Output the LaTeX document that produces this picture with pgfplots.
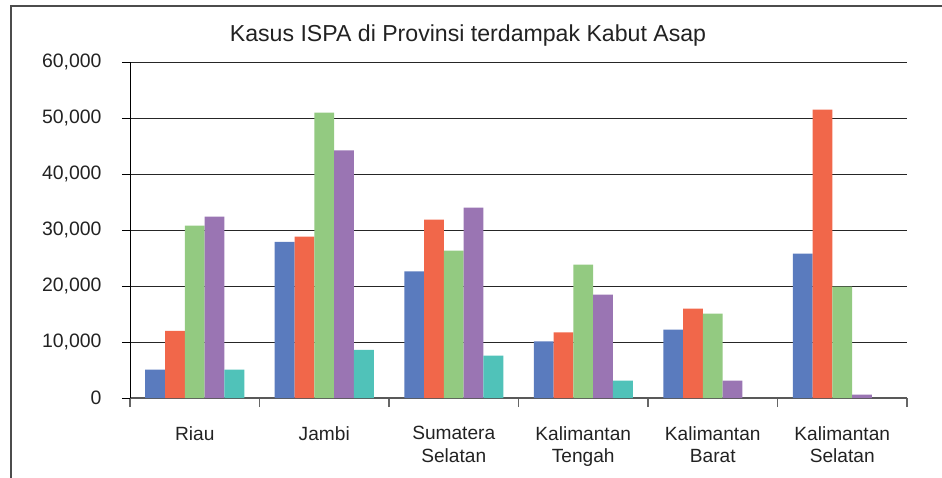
\documentclass[border=0pt]{standalone}
\usepackage{pgfplots}
\pgfplotsset{compat=1.18}
\usepackage{fontspec}
\setmainfont{Liberation Sans}
\definecolor{cblue}{RGB}{90,123,190}
\definecolor{cred}{RGB}{241,103,74}
\definecolor{cgreen}{RGB}{147,202,129}
\definecolor{cpurple}{RGB}{154,117,179}
\definecolor{cteal}{RGB}{80,194,185}
\definecolor{txt}{RGB}{34,34,34}
\begin{document}
\begin{tikzpicture}
\begin{axis}[
  scale only axis, width=777bp, height=336bp,
  anchor=south west, at={(0,0)},
  ybar=0pt, bar width=19.8bp,
  xmin=-0.5, xmax=5.5, ymin=0, ymax=60000,
  ytick={0,10000,...,60000},
  scaled y ticks=false,
  /pgf/number format/.cd, fixed, 1000 sep={,}, assume math mode=true, /pgfplots/.cd,
  xtick={0,1,2,3,4,5},
  xticklabels={Riau,Jambi,{Sumatera\\Selatan},{Kalimantan\\Tengah},{Kalimantan\\Barat},{Kalimantan\\Selatan}},
  minor xtick={-0.5,0.5,1.5,2.5,3.5,4.5,5.5},
  major x tick style={draw=none},
  minor x tick style={draw=black!60, line width=1.2bp},
  minor tick length=9bp,
  major tick length=8bp,
  tick align=outside,
  axis x line*=bottom, axis y line*=left,
  x axis line style={draw=black!65, line width=2bp},
  y axis line style={draw=black, line width=0.9bp},
  y tick style={draw=black, line width=0.9bp},
  ymajorgrids, grid style={draw=black!85, line width=0.9bp},
  xticklabel style={align=center, font=\fontsize{19.2}{22.5}\selectfont, text=txt, yshift=-17bp},
  yticklabel style={font=\fontsize{19.5}{23}\selectfont, text=txt, xshift=-17bp},
  clip=false,
]
\addplot[fill=cblue, draw=none] coordinates {(0,5050) (1,27900) (2,22600) (3,10100) (4,12200) (5,25800)};
\addplot[fill=cred, draw=none] coordinates {(0,12000) (1,28800) (2,31850) (3,11700) (4,15950) (5,51500)};
\addplot[fill=cgreen, draw=none] coordinates {(0,30800) (1,50950) (2,26300) (3,23800) (4,15050) (5,19900)};
\addplot[fill=cpurple, draw=none] coordinates {(0,32400) (1,44200) (2,34000) (3,18450) (4,3100) (5,600)};
\addplot[fill=cteal, draw=none] coordinates {(0,5050) (1,8600) (2,7550) (3,3100)};
\end{axis}
\node[anchor=base, text=txt, font=\fontsize{23.2}{28}\selectfont] at (338bp,356bp) {Kasus ISPA di Provinsi terdampak Kabut Asap};
\draw[black!70, line width=1.2bp] (-119bp,-80bp) -- (-119bp,392bp) -- (812bp,392bp);
\pgfresetboundingbox
\path[use as bounding box] (-130bp,-80bp) rectangle (812bp,398bp);
\end{tikzpicture}
\end{document}
